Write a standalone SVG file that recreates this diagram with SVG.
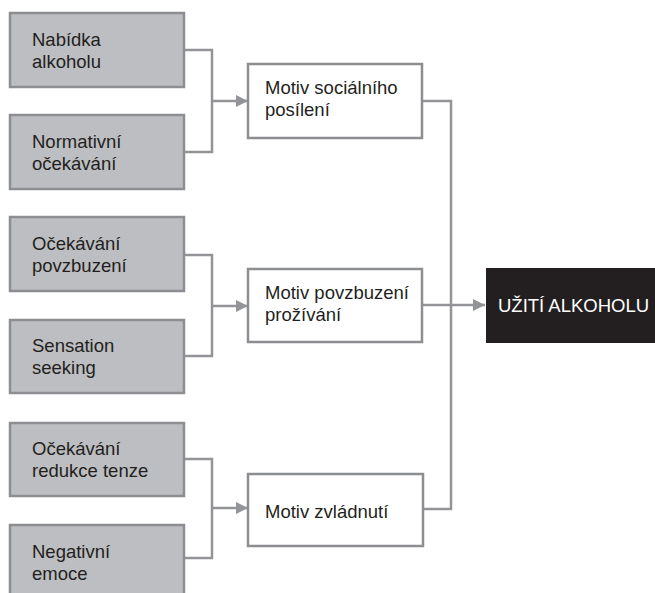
<svg xmlns="http://www.w3.org/2000/svg" width="655" height="593" viewBox="0 0 655 593">
<style>
.src rect{fill:#bdbec1;stroke:#8d8e91;stroke-width:2.5}
.mot rect{fill:#fff;stroke:#8d8e91;stroke-width:2.5}
text{font-family:"Liberation Sans",Arial,sans-serif;font-size:18.5px;fill:#231f20}
#connectors path{fill:none;stroke:#939497;stroke-width:2.5}
</style>
<defs>
<marker id="ah" markerWidth="12" markerHeight="12" refX="12" refY="6" orient="auto" markerUnits="userSpaceOnUse">
<path d="M0,0 L12,6 L0,12 Z" fill="#939497"/>
</marker>
</defs>
<rect width="655" height="593" fill="#fff"/>
<g id="connectors">
<path d="M184,50 H212 V152 H184"/>
<path d="M212,101 H248" marker-end="url(#ah)"/>
<path d="M184,255 H212 V356 H184"/>
<path d="M212,306 H248" marker-end="url(#ah)"/>
<path d="M184,459 H212 V558 H184"/>
<path d="M212,508 H248" marker-end="url(#ah)"/>
<path d="M422,101 H451 V509 H423"/>
<path d="M422,305 H485" marker-end="url(#ah)"/>
</g>
<g id="n1" class="src"><rect x="10" y="13" width="174" height="74"/><text x="32" y="46">Nabídka</text><text x="32" y="68">alkoholu</text></g>
<g id="n2" class="src"><rect x="10" y="115" width="174" height="74"/><text x="32" y="148">Normativní</text><text x="32" y="170">očekávání</text></g>
<g id="n3" class="src"><rect x="10" y="217" width="174" height="74"/><text x="32" y="250">Očekávání</text><text x="32" y="272">povzbuzení</text></g>
<g id="n4" class="src"><rect x="10" y="320" width="174" height="73"/><text x="32" y="352">Sensation</text><text x="32" y="374">seeking</text></g>
<g id="n5" class="src"><rect x="10" y="423" width="174" height="73"/><text x="32" y="455">Očekávání</text><text x="32" y="477">redukce tenze</text></g>
<g id="n6" class="src"><rect x="10" y="525" width="174" height="80"/><text x="32" y="558">Negativní</text><text x="32" y="580">emoce</text></g>
<g id="m1" class="mot"><rect x="248" y="64" width="174" height="74"/><text x="265" y="94">Motiv sociálního</text><text x="265" y="116">posílení</text></g>
<g id="m2" class="mot"><rect x="248" y="269" width="174" height="73"/><text x="265" y="299">Motiv povzbuzení</text><text x="265" y="321">prožívání</text></g>
<g id="m3" class="mot"><rect x="248" y="474" width="175" height="72"/><text x="265" y="518">Motiv zvládnutí</text></g>
<g id="out"><rect x="486" y="268" width="169" height="75" fill="#231f20"/><text x="498" y="312" style="fill:#fff">UŽITÍ ALKOHOLU</text></g>
</svg>
